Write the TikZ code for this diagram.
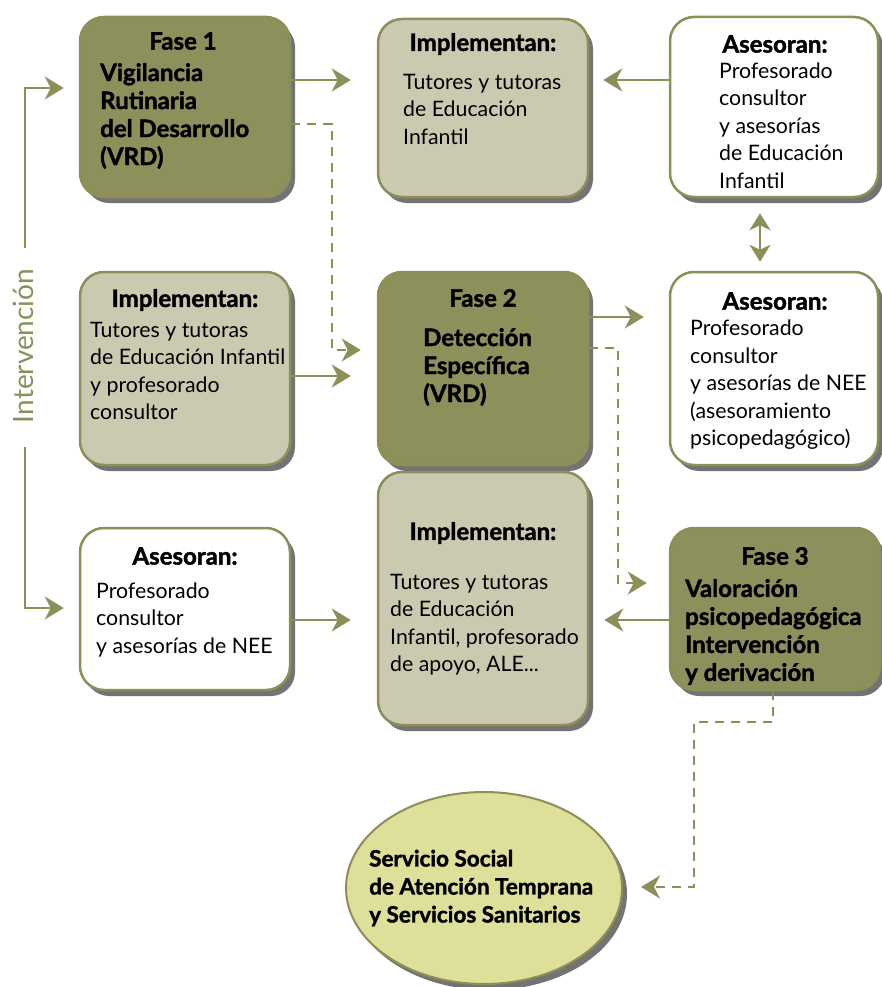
\documentclass[tikz,border=0pt]{standalone}
\usepackage{fontspec}
\setmainfont{Lato}[BoldFeatures={FakeBold=1.6}]
\usetikzlibrary{arrows.meta,shadows,shapes.geometric}
\definecolor{ol}{RGB}{140,143,88}
\definecolor{darkfill}{RGB}{142,144,92}
\definecolor{lightfill}{RGB}{203,202,177}
\definecolor{ellfill}{RGB}{222,223,153}
\tikzset{
  x=1pt, y=-1pt,
  shd/.style={drop shadow={shadow xshift=5pt, shadow yshift=-6pt, opacity=0.55, fill=black}},
  boxbase/.style={draw=ol, line width=2.5pt, rounded corners=24pt, inner sep=0pt, shd},
  dbox/.style={boxbase, fill=darkfill},
  lbox/.style={boxbase, fill=lightfill},
  wbox/.style={boxbase, fill=white},
  ttl/.style={font=\fontsize{24}{27}\selectfont\bfseries, inner sep=0pt},
  btxt/.style={font=\fontsize{24}{28}\selectfont\bfseries, align=left, anchor=west, inner sep=0pt},
  rtxt/.style={font=\fontsize{21.3}{27.5}\selectfont, align=left, anchor=west, inner sep=0pt},
  arr/.style={draw=ol, line width=2pt, -{Stealth[length=19pt,width=23pt,inset=6pt]}},
  darr/.style={arr, dash pattern=on 9pt off 7pt},
  plainline/.style={draw=ol, line width=2pt},
}
\begin{document}
\begin{tikzpicture}
\useasboundingbox (0,0) rectangle (881,987);
% boxes
\node[dbox, minimum width=210pt, minimum height=180pt] (f1) at (185,107) {};
\node[lbox, minimum width=210pt, minimum height=178pt] (imp1) at (483,108) {};
\node[wbox, minimum width=208pt, minimum height=180pt] (as1) at (774,107) {};
\node[lbox, minimum width=210pt, minimum height=193pt] (imp2) at (185,368.5) {};
\node[dbox, minimum width=210pt, minimum height=193pt] (f2) at (483,368.5) {};
\node[wbox, minimum width=208pt, minimum height=193pt] (as2) at (774,368.5) {};
\node[wbox, minimum width=210pt, minimum height=162pt] (as3) at (185,609) {};
\node[lbox, minimum width=210pt, minimum height=253pt] (imp3) at (483,598.5) {};
\node[dbox, minimum width=210pt, minimum height=162pt] (f3) at (775,609) {};
\node[ellipse, draw=ol, line width=2pt, fill=ellfill, minimum width=276pt, minimum height=192pt, shd] (ell) at (484,888) {};
% texts
\node[ttl] (f1t) at (183,41) {Fase 1};
\node[btxt] (f1b) at (100,116) {Vigilancia\\Rutinaria\\del Desarrollo\\(VRD)};
\node[ttl] (imp1t) at (483,44) {Implementan:};
\node[rtxt] (imp1b) at (403,109) {Tutores y tutoras\\de Educación\\Infantil};
\node[ttl] (as1t) at (775,44) {Asesoran:};
\node[rtxt] (as1b) at (719,125.5) {Profesorado\\consultor\\y asesorías\\de Educación\\Infantil};
\node[ttl] (imp2t) at (185,300) {Implementan:};
\node[rtxt] (imp2b) at (90,371) {Tutores y tutoras\\de Educación Infantil\\y profesorado\\consultor};
\node[ttl] (f2t) at (483,298) {Fase 2};
\node[btxt] (f2b) at (423,367) {Detección\\Específica\\(VRD)};
\node[ttl] (as2t) at (775,301) {Asesoran:};
\node[rtxt] (as2b) at (690,385) {Profesorado\\consultor\\y asesorías de NEE\\(asesoramiento\\psicopedagógico)};
\node[ttl] (as3t) at (185,556) {Asesoran:};
\node[rtxt] (as3b) at (96,619.5) {Profesorado\\consultor\\y asesorías de NEE};
\node[ttl] (imp3t) at (483,533) {Implementan:};
\node[rtxt] (imp3b) at (390,624.5) {Tutores y tutoras\\de Educación\\Infantil, profesorado\\de apoyo, ALE...};
\node[ttl] (f3t) at (775,556) {Fase 3};
\node[btxt] (f3b) at (685,632) {Valoración\\psicopedagógica\\Intervención\\y derivación};
\node[btxt, font=\fontsize{22.5}{28}\selectfont\bfseries] (ellt) at (369,888) {Servicio Social\\de Atención Temprana\\y Servicios Sanitarios};
\node[rotate=90, text=ol, font=\fontsize{28}{30}\selectfont, inner sep=0pt] (interv) at (23,346) {Intervención};
\coordinate (itop) at (25,248);
\coordinate (ibot) at (25,447);
% connectors
\draw[arr, shorten >=26pt] (f1.east |- 0,80) -- (imp1.west |- 0,80);
\draw[arr, shorten >=14pt] (as1.west |- 0,80) -- (imp1.east |- 0,80);
\draw[draw=ol, line width=2pt, {Stealth[length=17pt,width=21pt,inset=5pt]}-{Stealth[length=17pt,width=21pt,inset=5pt]}, shorten <=15pt, shorten >=9pt] (as1.south -| 760,0) -- (as2.north -| 760,0);
\draw[darr, shorten >=16pt] (f1.east |- 0,124) -| (332,350) -- (f2.west |- 0,350);
\draw[arr, shorten >=26pt] (imp2.east |- 0,376) -- (f2.west |- 0,376);
\draw[arr, shorten >=25pt] (f2.east |- 0,317) -- (as2.west |- 0,317);
\draw[darr, shorten >=22pt] (f2.east |- 0,348) -| (618,583) -- (f3.west |- 0,583);
\draw[arr, shorten >=15pt] (f3.west |- 0,620) -- (imp3.east |- 0,620);
\draw[arr, shorten >=26pt] (as3.east |- 0,620) -- (imp3.west |- 0,620);
\draw[darr, shorten >=18pt] (f3.south -| 773,0) -- (773,722) -| (694,887) -- (ell.east |- 0,887);
\draw[arr, shorten >=15pt] (itop) -- (25,88) -- (f1.west |- 0,88);
\draw[arr, shorten >=15pt] (ibot) -- (25,608) -- (as3.west |- 0,608);
\end{tikzpicture}
\end{document}
